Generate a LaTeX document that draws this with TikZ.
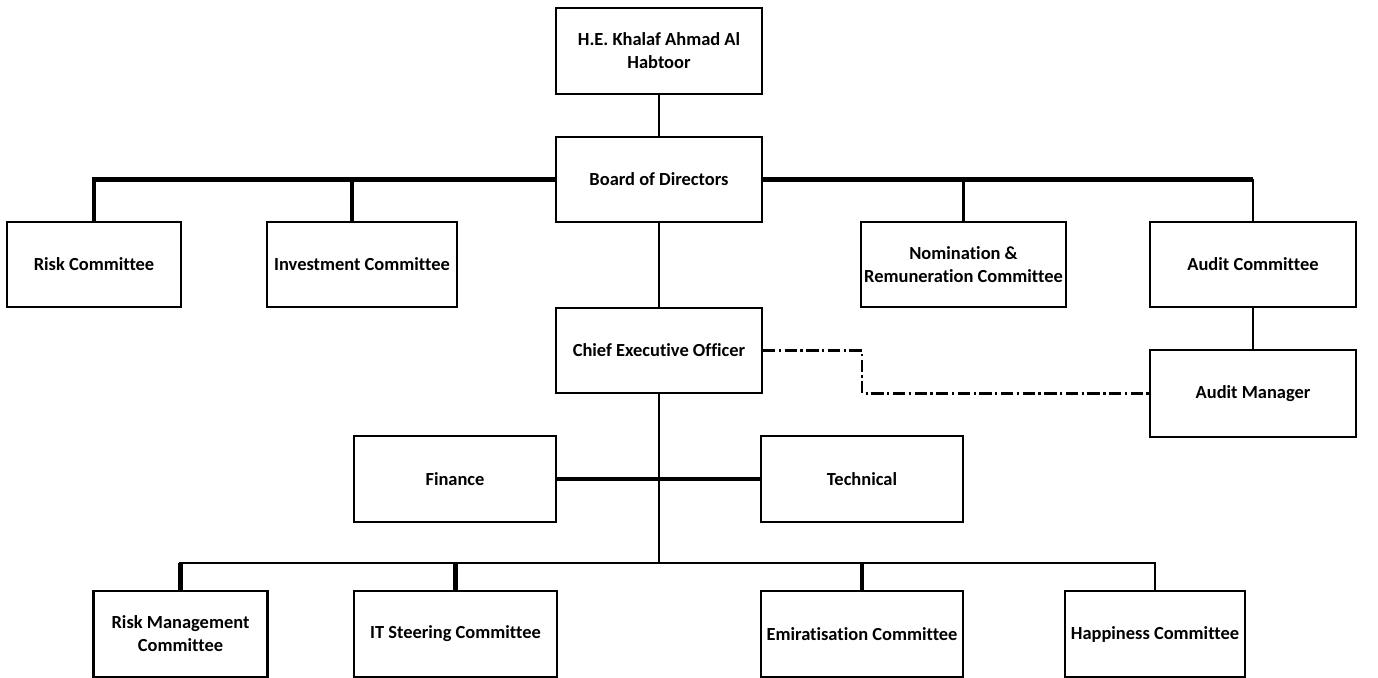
\documentclass[tikz,border=0pt]{standalone}
\usepackage{fontspec}
\setmainfont{Carlito}[Ligatures=NoCommon]
\usepackage{tikz}
\usetikzlibrary{positioning}

\begin{document}
\begin{tikzpicture}[
    x=0.02cm, y=-0.02cm,
    box/.style={draw, line width=1.2pt, minimum width=4.12cm, minimum height=1.71cm,
                align=center, inner sep=2pt, font=\fontsize{10.5}{13}\selectfont\bfseries},
    narrow/.style={box, minimum width=3.48cm},
    link/.style={line width=1.3pt},
    bus/.style={line width=2.3pt},
    dotline/.style={line width=1.3pt, dash pattern=on 7pt off 2pt on 1.3pt off 2pt},
]
\useasboundingbox (0,0) rectangle (1378,678);

% top of the chart
\node[box] (hab) at (659,51) {H.E. Khalaf Ahmad Al\\Habtoor};
\node[box] (bod) at (659,179.5) {Board of Directors};

% board committees
\node[narrow] (risk) at (94,264.5) {Risk Committee};
\node[box, minimum width=3.8cm] (inv) at (362,264.5) {Investment Committee};
\node[box, minimum width=4.02cm] (nom) at (963.5,264.5) {Nomination \&\\Remuneration Committee};
\node[box] (aud) at (1253,264.5) {Audit Committee};

\node[box] (ceo) at (659,350.5) {Chief Executive Officer};
\node[box, minimum height=1.74cm] (am) at (1253,393.5) {Audit Manager};

% departments
\node[box, minimum width=4.04cm] (fin) at (455,479) {Finance};
\node[box, minimum width=4.04cm] (tech) at (862,479) {Technical};

% management committees
\node[narrow] (rmc) at (180.5,634) {Risk Management\\Committee};
\node[box, minimum width=4.06cm] (its) at (455.5,634) {IT Steering Committee};
\node[box, minimum width=4.04cm] (emi) at (862,634) {Emiratisation Committee};
\node[box, minimum width=3.6cm] (hap) at (1155,634) {Happiness Committee};

\coordinate (bend) at (862,350.5);
\coordinate (split) at (659,563);

\draw[link] (hab) -- (bod);
\draw[bus] (bod.west) -| (risk.north);
\draw[bus] (bod.west) -| ([xshift=-0.2cm]inv.north);
\draw[bus] (bod.east) -- (bod.east -| aud.north);
\draw[link] (bod.east -| nom.north) -- (nom.north);
\draw[link] (bod.east -| aud.north) -- (aud.north);
\draw[link] (bod) -- (ceo);
\draw[link] (aud) -- (am);
\draw[dotline] (ceo.east) -- (bend) |- (am.west);

\draw[link] (ceo.south) -- (split);
\draw[bus] (fin.east) -- (tech.west);
\draw[link] (split) -| (rmc.north);
\draw[link] (split) -| (hap.north);
\draw[bus] (split -| rmc.north) -- (rmc.north);
\draw[bus] (split -| its.north) -- (its.north);
\draw[bus] (split -| emi.north) -- (emi.north);

\end{tikzpicture}
\end{document}
